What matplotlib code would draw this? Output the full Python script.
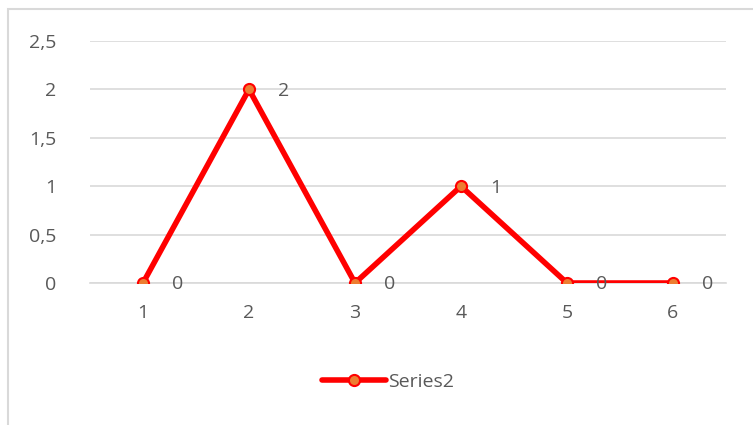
import matplotlib.pyplot as plt
from matplotlib.patches import Rectangle
from matplotlib.ticker import FuncFormatter

# chart data
categories = [1, 2, 3, 4, 5, 6]
series2 = [0, 2, 0, 1, 0, 0]
series_name = "Series2"
y_ticks = [0, 0.5, 1, 1.5, 2, 2.5]

text_color = "#595959"
grid_color = "#D9D9D9"

plt.rcParams['font.family'] = ['Open Sans', 'DejaVu Sans']

fig = plt.figure(figsize=(7.53, 4.25), dpi=100)
ax = fig.add_axes([90 / 753, 142 / 425, 636 / 753, 242 / 425])

x = list(range(len(categories)))
ax.plot(x, series2, color="#FF0000", linewidth=4, marker="o",
        markersize=8, markerfacecolor="#ED7D31", markeredgecolor="#FF0000",
        markeredgewidth=1.5, label=series_name, solid_capstyle="round",
        solid_joinstyle="miter", zorder=3)

# data labels to the right of each point
for xi, v in zip(x, series2):
    ax.annotate(str(v), (xi, v), xytext=(25, -1), textcoords="offset points",
                ha="center", va="center", fontsize=14, color=text_color)

ax.set_xlim(-0.5, len(categories) - 0.5)
ax.set_ylim(0, 2.5)
ax.set_xticks(x)
ax.set_xticklabels([str(c) for c in categories])
ax.set_yticks(y_ticks)
ax.yaxis.set_major_formatter(FuncFormatter(lambda v, p: f"{v:g}".replace(".", ",")))
ax.grid(axis="y", color=grid_color, linewidth=1.2)
ax.set_axisbelow(True)
for s in ax.spines.values():
    s.set_visible(False)
ax.spines["bottom"].set_visible(True)
ax.spines["bottom"].set_color(grid_color)
ax.spines["bottom"].set_linewidth(1.2)
ax.tick_params(length=0, colors=text_color, labelsize=14)
ax.tick_params(axis="y", pad=24)
ax.tick_params(axis="x", pad=15)

fig.legend(loc="center", bbox_to_anchor=(388 / 753, 43 / 425), frameon=False,
           fontsize=14, labelcolor=text_color, handlelength=3.3, handletextpad=0.1)

# chart area border (partially off-canvas like the reference)
fig.patches.append(Rectangle((8 / 753, -0.1), 1.0, (425 - 9) / 425 + 0.1,
                             transform=fig.transFigure, fill=False,
                             edgecolor=grid_color, linewidth=1.5))

fig.savefig("out.png", dpi=100)
